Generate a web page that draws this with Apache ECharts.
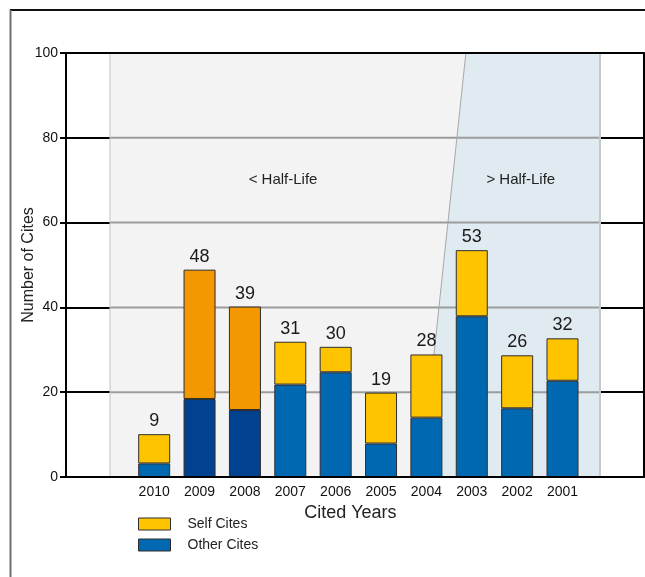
<!DOCTYPE html>
<html>
<head>
<meta charset="utf-8">
<script src="https://cdn.jsdelivr.net/npm/echarts@6/dist/echarts.min.js"></script>
<style>html,body{margin:0;padding:0;background:#fff}#c{width:645px;height:577px}</style>
</head>
<body>
<div id="c"></div>
<script>
// ---- data ----
const categories = ['2010','2009','2008','2007','2006','2005','2004','2003','2002','2001'];
const otherCites = [3.2, 18.4, 15.8, 21.8, 24.7, 7.9, 14.0, 37.9, 16.2, 22.7];
const selfCites  = [6.9, 30.5, 24.4, 10.1, 6.0, 12.0, 14.9, 15.6, 12.5, 10.0];
const totalLabels = [9, 48, 39, 31, 30, 19, 28, 53, 26, 32];
const highlightedYears = ['2009', '2008'];
const yMin = 0, yMax = 100, yInterval = 20;
const regionLabels = ['< Half-Life', '> Half-Life'];

// ---- styles ----
const FONT = "'Liberation Sans', Arial, sans-serif";
const C_SELF = '#ffc400', C_OTHER = '#0068b1';
const C_SELF_HI = '#f39800', C_OTHER_HI = '#00428f';
const BORDER = '#2e2e2e';

const chart = echarts.init(document.getElementById('c'), null, {renderer: 'canvas'});

// background geometry in category units (category i centred at i)
const BG = {xMin: -1.944, xMax: 10.796, start: -0.974, diagTop: 6.87, diagBottom: 5.88, end: 9.826,
            lab1: 2.84, lab2: 8.08, labY: 70};

function renderBg(params, api) {
  const p = (x, y) => api.coord([x, y]);
  const children = [
    {type: 'polygon', shape: {points: [p(BG.start, yMin), p(BG.start, yMax), p(BG.diagTop, yMax), p(BG.diagBottom, yMin)]},
     style: {fill: '#f3f3f3'}},
    {type: 'polygon', shape: {points: [p(BG.diagBottom, yMin), p(BG.diagTop, yMax), p(BG.end, yMax), p(BG.end, yMin)]},
     style: {fill: '#dfeaf1'}}
  ];
  for (let v = yMin + yInterval; v < yMax; v += yInterval) {
    const a = p(BG.start, v), b = p(BG.end, v);
    children.push({type: 'line', shape: {x1: a[0], y1: a[1], x2: b[0], y2: b[1]}, style: {stroke: '#9c9c9c', lineWidth: 2}});
  }
  const d1 = p(BG.diagTop, yMax), d2 = p(BG.diagBottom, yMin);
  children.push({type: 'line', shape: {x1: d1[0], y1: d1[1], x2: d2[0], y2: d2[1]}, style: {stroke: '#a8a8a8', lineWidth: 1}});
  const s1 = p(BG.start, yMax), s2 = p(BG.start, yMin);
  children.push({type: 'line', shape: {x1: s1[0], y1: s1[1], x2: s2[0], y2: s2[1]}, style: {stroke: '#c4c4c4', lineWidth: 1}});
  const e1 = p(BG.end, yMax), e2 = p(BG.end, yMin);
  children.push({type: 'line', shape: {x1: e1[0], y1: e1[1], x2: e2[0], y2: e2[1]}, style: {stroke: '#c8c8c8', lineWidth: 2}});
  const t1 = p(BG.lab1, BG.labY), t2 = p(BG.lab2, BG.labY);
  children.push({type: 'text', x: t1[0], y: t1[1], style: {text: regionLabels[0], fill: '#222', font: '15px ' + FONT, align: 'center', verticalAlign: 'middle'}});
  children.push({type: 'text', x: t2[0], y: t2[1], style: {text: regionLabels[1], fill: '#222', font: '15px ' + FONT, align: 'center', verticalAlign: 'middle'}});
  return {type: 'group', children};
}

const otherData = categories.map((c, i) => highlightedYears.includes(c)
  ? {value: otherCites[i], itemStyle: {color: C_OTHER_HI}} : otherCites[i]);
const selfData = categories.map((c, i) => highlightedYears.includes(c)
  ? {value: selfCites[i], itemStyle: {color: C_SELF_HI}} : selfCites[i]);

const option = {
  animation: false,
  backgroundColor: '#ffffff',
  textStyle: {fontFamily: FONT},
  grid: [
    {left: 66, right: 1, top: 53, bottom: 100},
    {left: 131.5, right: 59.8, top: 53, bottom: 100}
  ],
  legend: {
    orient: 'vertical', left: 138, top: 517, padding: 0, itemWidth: 32, itemHeight: 12, itemGap: 7,
    icon: 'rect',
    data: ['Self Cites', 'Other Cites'],
    textStyle: {fontSize: 14, color: '#222', fontFamily: FONT, padding: [0, 0, 0, 12]},
    itemStyle: {borderColor: BORDER, borderWidth: 1},
    selectedMode: false
  },
  xAxis: [
    {type: 'value', gridIndex: 0, min: BG.xMin, max: BG.xMax, z: 5,
     axisLine: {show: true, onZero: false, lineStyle: {color: '#000', width: 2}}, axisTick: {show: false},
     axisLabel: {show: false}, splitLine: {show: false}},
    {type: 'value', gridIndex: 0, position: 'top', min: BG.xMin, max: BG.xMax, z: 5,
     axisLine: {show: true, onZero: false, lineStyle: {color: '#000', width: 2}}, axisTick: {show: false},
     axisLabel: {show: false}, splitLine: {show: false}},
    {type: 'category', gridIndex: 1, data: categories,
     axisLine: {show: false}, axisTick: {show: false},
     axisLabel: {fontSize: 14, color: '#111', margin: 8, fontFamily: FONT},
     name: 'Cited Years', nameLocation: 'middle', nameGap: 25,
     nameTextStyle: {fontSize: 18, color: '#222', fontFamily: FONT, padding: [0, 16, 0, 0]}}
  ],
  yAxis: [
    {type: 'value', gridIndex: 0, min: yMin, max: yMax, interval: yInterval,
     axisLine: {show: true, onZero: false, lineStyle: {color: '#000', width: 2}},
     axisTick: {show: true, length: 6, lineStyle: {color: '#000', width: 2}},
     axisLabel: {fontSize: 14, color: '#111', margin: 8, fontFamily: FONT},
     splitLine: {show: true, lineStyle: {color: '#000', width: 2}},
     name: 'Number of Cites', nameLocation: 'middle', nameGap: 29, nameMoveOverlap: false,
     nameTextStyle: {fontSize: 16, color: '#222', fontFamily: FONT}},
    {type: 'value', gridIndex: 0, position: 'right', min: yMin, max: yMax, z: 5,
     axisLine: {show: true, onZero: false, lineStyle: {color: '#000', width: 2}}, axisTick: {show: false},
     axisLabel: {show: false}, splitLine: {show: false}},
    {type: 'value', gridIndex: 1, min: yMin, max: yMax, show: false, splitLine: {show: false}}
  ],
  series: [
    {type: 'custom', xAxisIndex: 0, yAxisIndex: 0, data: [[0, 0]], renderItem: renderBg, silent: true, z: 1, clip: false},
    {name: 'Other Cites', type: 'bar', xAxisIndex: 2, yAxisIndex: 2, stack: 'cites', barWidth: 32,
     itemStyle: {color: C_OTHER, borderColor: BORDER, borderWidth: 1}, data: otherData, z: 3},
    {name: 'Self Cites', type: 'bar', xAxisIndex: 2, yAxisIndex: 2, stack: 'cites', barWidth: 32,
     itemStyle: {color: C_SELF, borderColor: BORDER, borderWidth: 1}, data: selfData, z: 3,
     label: {show: true, position: 'top', distance: 4, fontSize: 18, color: '#1a1a1a', fontFamily: FONT,
             formatter: (p) => String(totalLabels[p.dataIndex])}}
  ],
  graphic: [
    {type: 'line', shape: {x1: 10, y1: 10, x2: 645, y2: 10}, style: {stroke: '#111', lineWidth: 2}, silent: true},
    {type: 'line', shape: {x1: 10.5, y1: 10, x2: 10.5, y2: 577}, style: {stroke: '#6e6e6e', lineWidth: 2}, silent: true}
  ]
};
chart.setOption(option);
</script>
</body>
</html>
